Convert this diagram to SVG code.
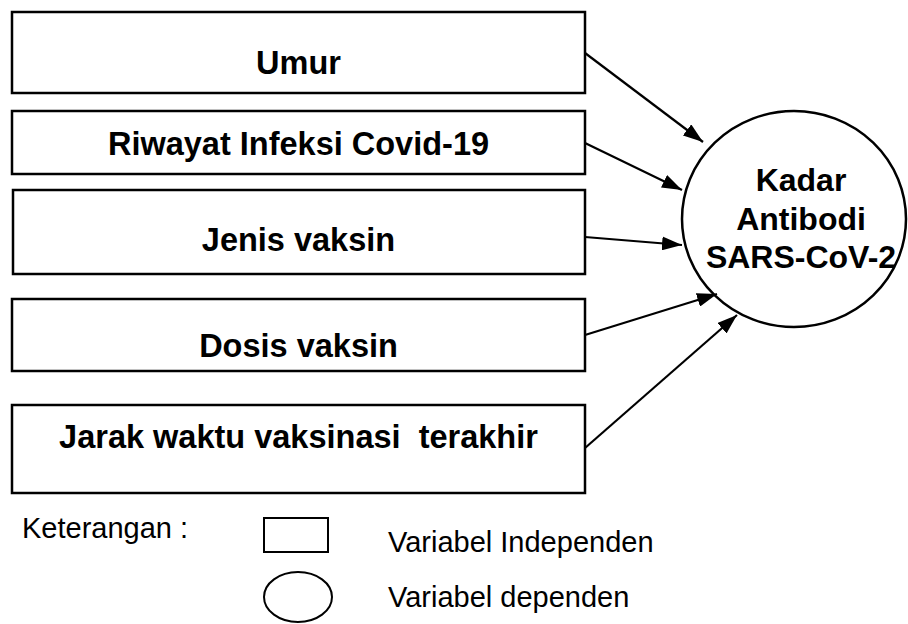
<svg xmlns="http://www.w3.org/2000/svg" width="908" height="624" viewBox="0 0 908 624">
<style>
.box{fill:#fff;stroke:#000;stroke-width:2.5}
.lbl{font-family:"Liberation Sans",Arial,sans-serif;font-weight:bold;font-size:32.5px;text-anchor:middle;fill:#000}
.el{font-size:32px}
.leg{font-family:"Liberation Sans",Arial,sans-serif;font-size:29px;fill:#000}
.conn{stroke:#000;stroke-width:2.2;fill:none}
</style>
<defs>
<marker id="ah" viewBox="0 0 20 14" refX="20" refY="7" markerWidth="20" markerHeight="14" markerUnits="userSpaceOnUse" orient="auto">
<path d="M0,0 L20,7 L0,14 Z" fill="#000"/>
</marker>
</defs>
<rect x="0" y="0" width="908" height="624" fill="#fff"/>
<g id="n-umur"><rect class="box" x="12" y="12" width="573" height="81"/><text class="lbl" x="298.5" y="74">Umur</text></g>
<g id="n-riwayat"><rect class="box" x="12" y="111" width="573" height="63"/><text class="lbl" x="298.5" y="155">Riwayat Infeksi Covid-19</text></g>
<g id="n-jenis"><rect class="box" x="13" y="190" width="572" height="84"/><text class="lbl" x="298.5" y="251">Jenis vaksin</text></g>
<g id="n-dosis"><rect class="box" x="12" y="299" width="573" height="72"/><text class="lbl" x="298.5" y="357">Dosis vaksin</text></g>
<g id="n-jarak"><rect class="box" x="12" y="405" width="573" height="88"/><text class="lbl" x="298.5" y="448" xml:space="preserve">Jarak waktu vaksinasi  terakhir</text></g>
<g id="n-kadar"><ellipse class="box" cx="794" cy="219" rx="112" ry="108"/>
<text class="lbl el" x="801" y="191">Kadar</text><text class="lbl el" x="801" y="230">Antibodi</text><text class="lbl el" x="801" y="268">SARS-CoV-2</text></g>
<g id="connectors">
<line class="conn" x1="585" y1="53" x2="703" y2="142" marker-end="url(#ah)"/>
<line class="conn" x1="585" y1="143" x2="682" y2="190" marker-end="url(#ah)"/>
<line class="conn" x1="585" y1="237" x2="682" y2="245" marker-end="url(#ah)"/>
<line class="conn" x1="585" y1="335" x2="717" y2="294" marker-end="url(#ah)"/>
<line class="conn" x1="585" y1="448" x2="737" y2="315" marker-end="url(#ah)"/>
</g>
<g id="legend">
<text class="leg" x="22" y="538">Keterangan :</text>
<rect x="264" y="518" width="64" height="34" fill="#fff" stroke="#000" stroke-width="2"/>
<ellipse cx="298" cy="597" rx="34" ry="25" fill="#fff" stroke="#000" stroke-width="2"/>
<text class="leg" x="388" y="552">Variabel Independen</text>
<text class="leg" x="388" y="607">Variabel dependen</text>
</g>
</svg>
